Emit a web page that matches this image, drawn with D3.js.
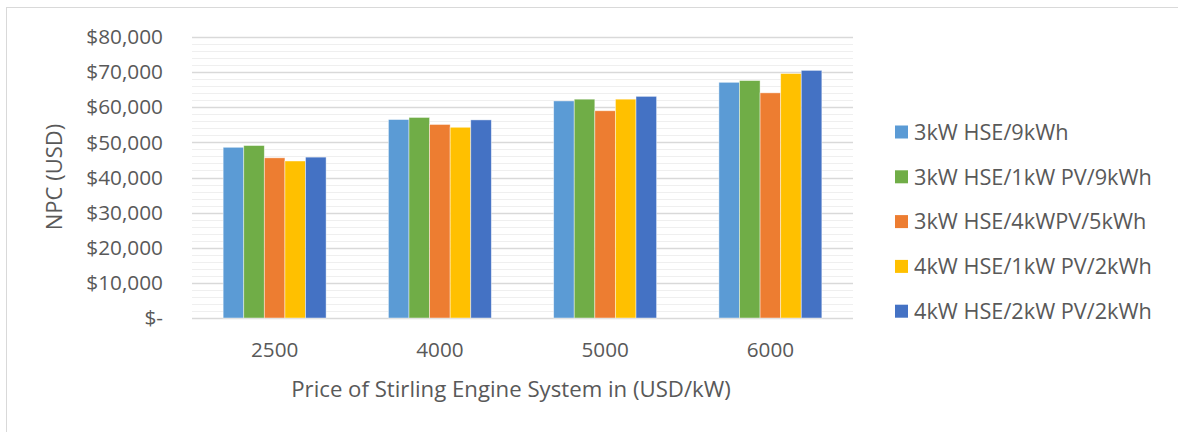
<!DOCTYPE html>
<html>
<head>
<meta charset="utf-8">
<script src="https://cdn.jsdelivr.net/npm/d3@7"></script>
<style>
  html, body { margin: 0; padding: 0; background: #fff; }
  svg { display: block; font-family: "Open Sans", sans-serif; }
</style>
</head>
<body>
<svg id="chart" width="1178" height="432"></svg>
<script>
// Net present cost per system configuration, by Stirling engine price
const categories = ["2500", "4000", "5000", "6000"];
const seriesNames = [
  "3kW HSE/9kWh",
  "3kW HSE/1kW PV/9kWh",
  "3kW HSE/4kWPV/5kWh",
  "4kW HSE/1kW PV/2kWh",
  "4kW HSE/2kW PV/2kWh"
];
const hse3Batt9 = [48600, 56500, 61800, 67100];
const hse3Pv1Batt9 = [49100, 57100, 62300, 67600];
const hse3Pv4Batt5 = [45600, 55100, 59000, 64100];
const hse4Pv1Batt2 = [44700, 54300, 62300, 69600];
const hse4Pv2Batt2 = [45800, 56400, 63100, 70500];
const yTicks = [0, 10000, 20000, 30000, 40000, 50000, 60000, 70000, 80000];
const colors = ["#5B9BD5", "#70AD47", "#ED7D31", "#FFC000", "#4472C4"];

const seriesValues = [hse3Batt9, hse3Pv1Batt9, hse3Pv4Batt5, hse4Pv1Batt2, hse4Pv2Batt2];

const svg = d3.select("#chart");
const textColor = "#595959";

// chart frame
svg.append("rect")
  .attr("x", 6.5).attr("y", 7.5)
  .attr("width", 1200).attr("height", 500)
  .attr("fill", "none").attr("stroke", "#d9d9d9").attr("stroke-width", 1);

const plot = { left: 192, right: 853, top: 37, bottom: 318 };

const y = d3.scaleLinear().domain([0, 80000]).range([plot.bottom, plot.top]);
const x = d3.scaleBand().domain(categories)
  .range([plot.left, plot.right])
  .paddingInner(0.377).paddingOuter(0.1885);
const xInner = d3.scaleBand().domain(d3.range(seriesNames.length))
  .range([0, x.bandwidth()]);

// minor gridlines every 2,000
const minor = d3.range(2000, 80000, 2000).filter(v => v % 10000 !== 0);
svg.append("g").selectAll("line").data(minor).join("line")
  .attr("x1", plot.left).attr("x2", plot.right)
  .attr("y1", d => Math.round(y(d)) + 0.5).attr("y2", d => Math.round(y(d)) + 0.5)
  .attr("stroke", "#efefef").attr("stroke-width", 1);

// major gridlines
svg.append("g").selectAll("line").data(yTicks).join("line")
  .attr("x1", plot.left).attr("x2", plot.right)
  .attr("y1", d => Math.round(y(d)) + 0.5).attr("y2", d => Math.round(y(d)) + 0.5)
  .attr("stroke", "#d9d9d9").attr("stroke-width", 1.3);

// bars
const groups = svg.append("g").selectAll("g").data(categories).join("g")
  .attr("transform", d => `translate(${x(d)},0)`);
groups.selectAll("rect")
  .data((c, ci) => seriesValues.map((vals, si) => ({ si, v: vals[ci] })))
  .join("rect")
  .attr("x", d => xInner(d.si))
  .attr("width", xInner.bandwidth())
  .attr("y", d => y(d.v))
  .attr("height", d => y(0) - y(d.v))
  .attr("fill", d => colors[d.si])
  .attr("stroke", "rgba(255,255,255,0.55)")
  .attr("stroke-width", 0.8);

// y axis
const yAxis = d3.axisLeft(y).tickValues(yTicks).tickSize(0).tickPadding(29)
  .tickFormat(d => d === 0 ? "$-" : "$" + d3.format(",")(d));
const yg = svg.append("g").attr("transform", `translate(${plot.left},0)`).call(yAxis);
yg.select(".domain").remove();
yg.selectAll("text").attr("fill", textColor).style("font-size", "20.8px")
  .style("font-family", "'Open Sans', sans-serif");

// x axis
const xAxis = d3.axisBottom(x).tickSize(0).tickPadding(24);
const xg = svg.append("g").attr("transform", `translate(0,${plot.bottom})`).call(xAxis);
xg.select(".domain").remove();
xg.selectAll("text").attr("fill", textColor).style("font-size", "20.7px")
  .style("font-family", "'Open Sans', sans-serif");

// axis titles
svg.append("text")
  .attr("transform", "translate(62,177) rotate(-90)")
  .attr("text-anchor", "middle")
  .attr("fill", textColor).style("font-size", "22px")
  .text("NPC (USD)");
svg.append("text")
  .attr("x", 511).attr("y", 397)
  .attr("text-anchor", "middle")
  .attr("fill", textColor).style("font-size", "22.2px")
  .text("Price of Stirling Engine System in (USD/kW)");

// legend
const legend = svg.append("g").selectAll("g").data(seriesNames).join("g")
  .attr("transform", (d, i) => `translate(895,${132 + i * 44.8})`);
legend.append("rect")
  .attr("x", 0).attr("y", -6.5).attr("width", 13).attr("height", 13)
  .attr("fill", (d, i) => colors[i]);
legend.append("text")
  .attr("x", 19).attr("dy", "0.36em")
  .attr("fill", textColor).style("font-size", "21.7px")
  .text(d => d);
</script>
</body>
</html>
